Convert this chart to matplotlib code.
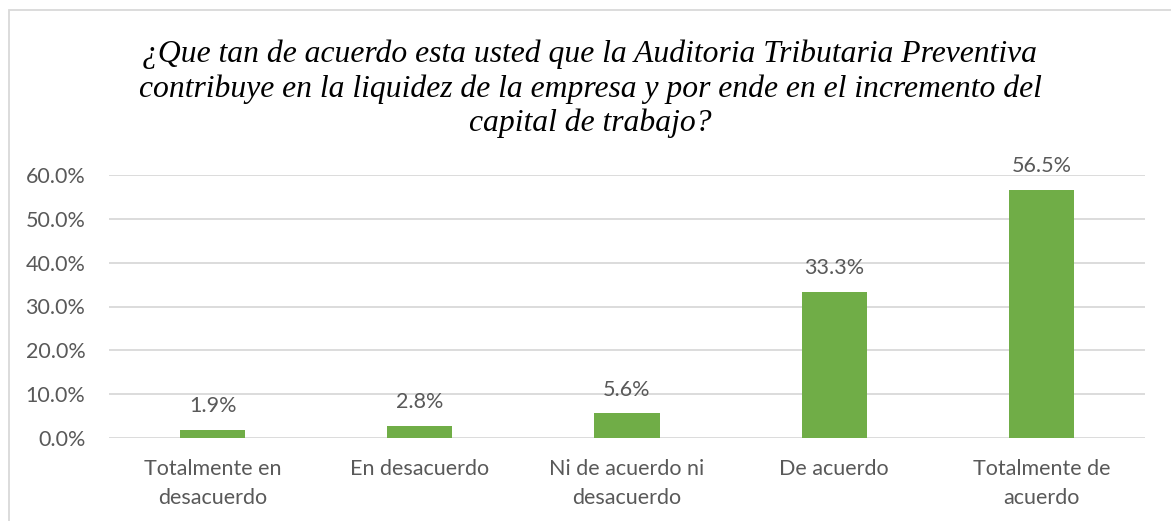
import matplotlib.pyplot as plt
from matplotlib.patches import Rectangle
from matplotlib.ticker import FuncFormatter

categories = ["Totalmente en\ndesacuerdo", "En desacuerdo", "Ni de acuerdo ni\ndesacuerdo",
              "De acuerdo", "Totalmente de\nacuerdo"]
values = [1.9, 2.8, 5.6, 33.3, 56.5]
title = ("¿Que tan de acuerdo esta usted que la Auditoria Tributaria Preventiva\n"
         "contribuye en la liquidez de la empresa y por ende en el incremento del\n"
         "capital de trabajo?")

gray = "#595959"
fs = 15.5
fig = plt.figure(figsize=(11.71, 5.21), dpi=100)
ax = fig.add_axes([109 / 1171, 1 - 438 / 521, (1145 - 109) / 1171, (438 - 175) / 521])

x = range(len(values))
ax.bar(x, values, width=0.315, color="#70ad47", zorder=3)
for i, v in zip(x, values):
    ax.annotate(f"{v:.1f}%", (i, v), xytext=(0, 10), textcoords="offset points",
                ha="center", va="bottom", fontsize=fs, family="Lato", color=gray)

ax.set_xlim(-0.5, len(values) - 0.5)
ax.set_ylim(0, 60)
ax.set_yticks(range(0, 61, 10))
ax.yaxis.set_major_formatter(FuncFormatter(lambda v, p: f"{v:.1f}%"))
ax.grid(axis="y", color="#d9d9d9", linewidth=1.3, zorder=0)
ax.set_xticks(list(x))
ax.set_xticklabels(categories, fontsize=fs, family="Lato", color=gray, linespacing=1.6)
for lbl in ax.get_yticklabels():
    lbl.set_fontsize(fs)
    lbl.set_family("Lato")
    lbl.set_color(gray)
ax.tick_params(length=0)
ax.tick_params(axis="y", pad=17)
ax.tick_params(axis="x", pad=15)
for s in ax.spines.values():
    s.set_visible(False)

fig.text(590 / 1171, 1 - 89 / 521, title, ha="center", va="center", fontsize=22.8,
         family="Liberation Serif", style="italic", linespacing=1.23)

fig.patches.append(Rectangle((9 / 1171, -0.1), 1.2, 1 - 10 / 521 + 0.1, transform=fig.transFigure,
                             fill=False, edgecolor="#d9d9d9", linewidth=1.3))

fig.savefig("out.png", dpi=100)
